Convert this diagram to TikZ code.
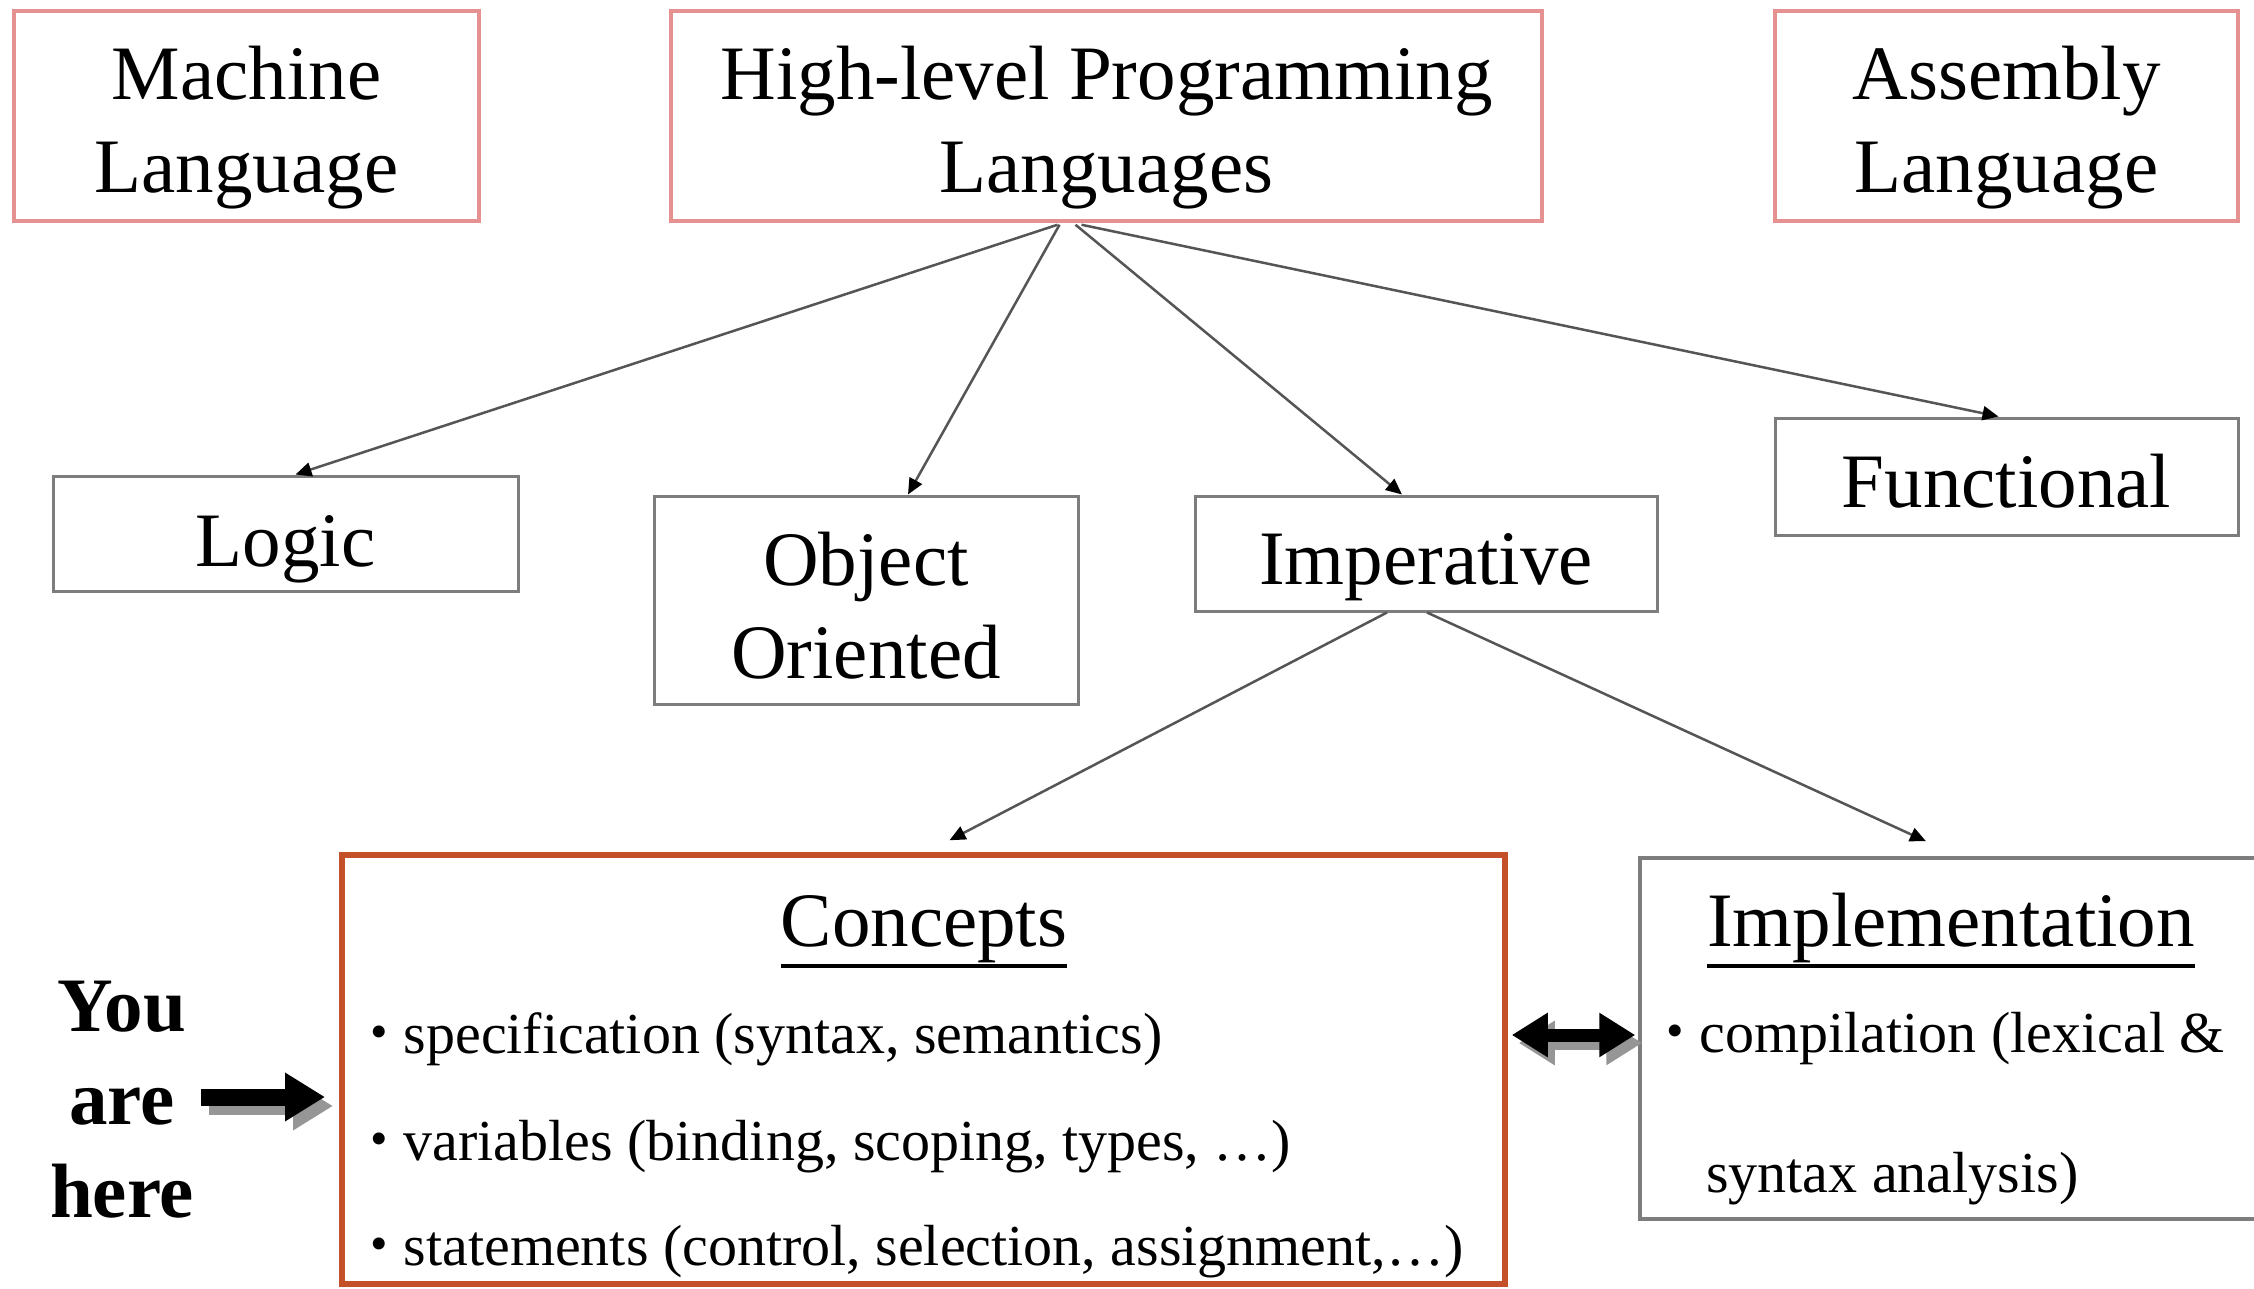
\documentclass[tikz,border=0pt]{standalone}
\usepackage{fontspec}
\setmainfont{Liberation Serif}
\usetikzlibrary{arrows.meta,calc}
\definecolor{pinkb}{RGB}{230,145,145}
\definecolor{grayb}{RGB}{125,125,125}
\definecolor{orangeb}{RGB}{196,80,42}
\definecolor{linec}{RGB}{85,85,85}
\definecolor{shadowc}{RGB}{150,150,150}
\newcommand\mybullet{{\fontsize{50}{50}\selectfont\raisebox{5pt}{•}}\hspace{16pt}}
\newcommand\headul[1]{\leavevmode\vtop{\hbox{#1}\kern2pt\hrule height 3.5pt}}
\begin{document}
\begin{tikzpicture}[x=1pt,y=-1pt,
  big/.style={font=\fontsize{77}{93}\selectfont, align=center, inner sep=0pt},
  small/.style={font=\fontsize{58}{70}\selectfont, inner sep=0pt, anchor=west},
  topbox/.style={draw=pinkb, line width=3.5pt, inner sep=0pt},
  midbox/.style={draw=grayb, line width=3pt, inner sep=0pt},
  conn/.style={draw=linec, line width=2.5pt, -{Triangle[length=16pt,width=14pt,color=black]}},
  fatone/.style={line width=17pt, -{Triangle[length=40pt,width=46pt]}},
  fattwo/.style={line width=13pt, {Triangle[length=36pt,width=42pt]}-{Triangle[length=36pt,width=42pt]}},
]
\useasboundingbox[fill=white] (0,0) rectangle (2254,1289);

% top row
\node[topbox, minimum width=465pt, minimum height=210pt] (mach) at (246.5,116) {};
\node[topbox, minimum width=871pt, minimum height=210pt] (high) at (1106.5,116) {};
\node[topbox, minimum width=463pt, minimum height=210pt] (asm) at (2006.5,116) {};
\node[big] (macht) at ($(mach)+(0,12)$) {Machine\\Language};
\node[big] (hight) at ($(high)+(0,12)$) {High-level Programming\\Languages};
\node[big] (asmt) at ($(asm)+(0,12)$) {Assembly\\Language};

% middle row
\node[midbox, minimum width=465pt, minimum height=115pt] (logic) at (285.5,533.5) {};
\node[midbox, minimum width=424pt, minimum height=208pt] (oo) at (866,600) {};
\node[midbox, minimum width=462pt, minimum height=115pt] (imp) at (1426,553.5) {};
\node[midbox, minimum width=463pt, minimum height=117pt] (func) at (2006.5,476.5) {};
\node[big] (logict) at ($(logic)+(0,16)$) {Logic};
\node[big] (oot) at ($(oo)+(0,6)$) {Object\\Oriented};
\node[big] (impt) at ($(imp)+(0,14)$) {Imperative};
\node[big] (funct) at ($(func)+(0,5)$) {Functional};

% bottom boxes
\node[draw=orangeb, line width=5.5pt, minimum width=1163pt, minimum height=429pt, inner sep=0pt] (conc) at (923.5,1069.5) {};
\node[draw=grayb, line width=3.5pt, minimum width=630pt, minimum height=361pt, inner sep=0pt] (impl) at (1955,1038.5) {};

\node[big, anchor=base] (ch) at (924,946) {\headul{Concepts}};
\node[big, anchor=base] (ih) at (1951,946) {\headul{Implementation}};

\node[small] (c1) at (370,1039) {\mybullet specification (syntax, semantics)};
\node[small] (c2) at (370,1147) {\mybullet variables (binding, scoping, types, …)};
\node[small] (c3) at (370,1252) {\mybullet statements (control, selection, assignment,…)};
\node[small] (i1) at (1666,1039) {\mybullet compilation (lexical \&};
\node[small] (i2) at (1706,1179) {syntax analysis)};

\node[font=\bfseries\fontsize{77}{93}\selectfont, align=center, inner sep=0pt] (you) at (122,1100) {You\\are\\here};

% connectors
\draw[conn] ($(high.south)+(-49,2)$) -- ($(logic.north)+(10,0)$);
\draw[conn] ($(high.south)+(-47,2)$) -- ($(oo.north)+(42,0)$);
\draw[conn] ($(high.south)+(-31,2)$) -- ($(imp.north)+(-24,0)$);
\draw[conn] ($(high.south)+(-25,2)$) -- ($(func.north)+(-8,0)$);
\draw[conn] ($(imp.south)+(-39,0)$) -- ($(conc.north)+(26,-12)$);
\draw[conn] ($(imp.south)+(1,0)$) -- ($(impl.north)+(-29,-15)$);

% fat arrows with shadows
\coordinate (youtip) at (325,1097);
\draw[fatone, shadowc, transform canvas={xshift=8pt,yshift=-9pt}] ($(you.east)+(7,-3)$) -- (youtip);
\draw[fatone, black] ($(you.east)+(7,-3)$) -- (youtip);
\draw[fattwo, shadowc, transform canvas={xshift=7pt,yshift=-8pt}] ($(conc.east |- i1.west)+(4,-4)$) -- ($(impl.west |- i1.west)+(-3,-4)$);
\draw[fattwo, black] ($(conc.east |- i1.west)+(4,-4)$) -- ($(impl.west |- i1.west)+(-3,-4)$);
\end{tikzpicture}
\end{document}
